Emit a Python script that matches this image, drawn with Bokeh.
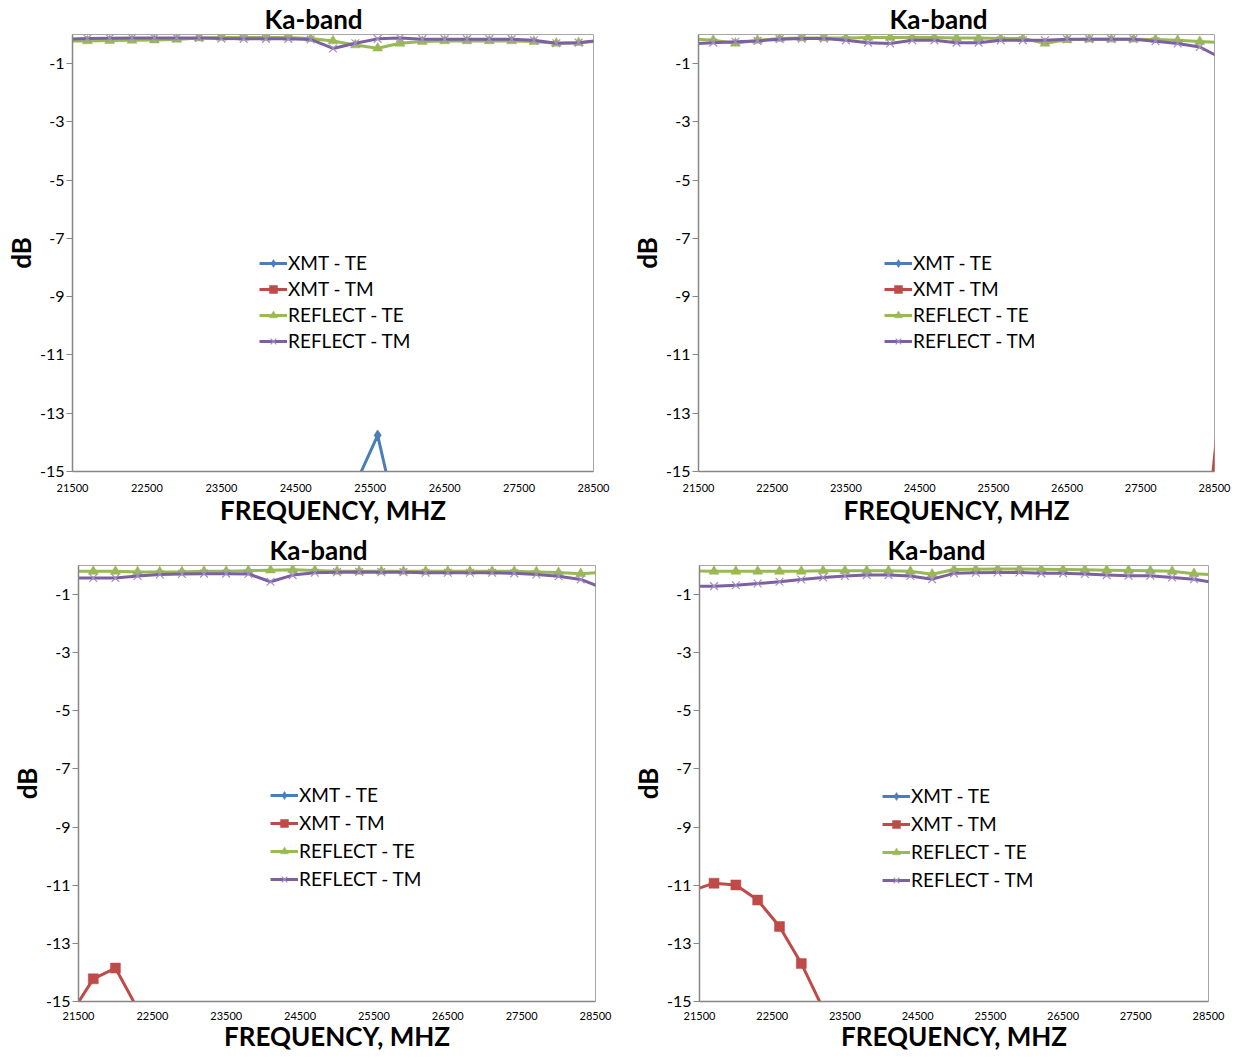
from bokeh.plotting import figure
from bokeh.layouts import column, row
from bokeh.models import FixedTicker, Legend, LegendItem
from bokeh.embed import file_html
from bokeh.resources import INLINE

# Frequency points (MHz), 300 MHz steps; the outermost points fall just outside the axis range
freq = [21400, 21700, 22000, 22300, 22600, 22900, 23200, 23500, 23800, 24100,
        24400, 24700, 25000, 25300, 25600, 25900, 26200, 26500, 26800, 27100,
        27400, 27700, 28000, 28300, 28600]

x_ticks = [21500, 22500, 23500, 24500, 25500, 26500, 27500, 28500]
y_ticks = [-1, -3, -5, -7, -9, -11, -13, -15]
series_names = ["XMT - TE", "XMT - TM", "REFLECT - TE", "REFLECT - TM"]

# Panel 1 (top left)
xmt_te_1 = [-24.5, -23.8, -23.1, -22.6, -22.9, -23.4, -22.1, -21.3, -20.6, -19.8, -18.7, -17.9, -16.8,
            -15.45, -13.76, -17.1, -18.4, -19.6, -20.3, -21.2, -22.0, -22.7, -23.5, -24.1, -24.8]
xmt_tm_1 = [-27.3, -26.8, -26.1, -25.7, -25.2, -24.8, -24.6, -24.1, -23.7, -23.4, -23.0, -22.6, -22.3,
            -22.0, -21.6, -21.9, -22.4, -22.8, -23.3, -23.7, -24.2, -24.6, -25.1, -25.5, -26.0]
refl_te_1 = [-0.22, -0.22, -0.21, -0.2, -0.19, -0.17, -0.12, -0.1, -0.1, -0.1, -0.1, -0.14, -0.22,
             -0.36, -0.47, -0.3, -0.24, -0.22, -0.22, -0.22, -0.22, -0.24, -0.3, -0.28, -0.22]
refl_tm_1 = [-0.16, -0.14, -0.13, -0.12, -0.12, -0.12, -0.12, -0.14, -0.15, -0.15, -0.15, -0.17, -0.48,
             -0.3, -0.15, -0.12, -0.16, -0.16, -0.16, -0.16, -0.16, -0.2, -0.3, -0.28, -0.2]

# Panel 2 (top right)
xmt_te_2 = [-26.2, -25.7, -25.1, -24.6, -24.2, -23.9, -23.5, -23.2, -22.8, -22.5, -22.1, -21.8, -21.6,
            -21.3, -21.1, -20.8, -20.6, -20.3, -20.1, -19.8, -19.6, -19.3, -19.1, -18.8, -18.6]
xmt_tm_2 = [-34.0, -33.2, -32.5, -31.8, -31.0, -30.3, -29.6, -28.9, -28.2, -27.5, -26.8, -26.1, -25.4,
            -24.7, -24.0, -23.4, -22.8, -22.3, -21.8, -21.3, -20.9, -20.5, -20.0, -19.5, -12.0]
refl_te_2 = [-0.15, -0.2, -0.3, -0.2, -0.14, -0.12, -0.12, -0.12, -0.1, -0.1, -0.1, -0.1, -0.12,
             -0.12, -0.14, -0.14, -0.3, -0.18, -0.16, -0.16, -0.16, -0.17, -0.2, -0.24, -0.28]
refl_tm_2 = [-0.32, -0.28, -0.25, -0.22, -0.16, -0.14, -0.14, -0.2, -0.28, -0.31, -0.2, -0.2, -0.28,
             -0.28, -0.2, -0.2, -0.2, -0.16, -0.16, -0.16, -0.16, -0.23, -0.31, -0.43, -0.82]

# Panel 3 (bottom left)
xmt_te_3 = [-29.5, -29.0, -28.6, -28.1, -27.7, -27.4, -27.0, -26.7, -26.3, -26.0, -25.8, -25.5, -25.3,
            -25.0, -24.8, -24.6, -24.4, -24.2, -24.0, -23.8, -23.6, -23.4, -23.2, -23.0, -22.8]
xmt_tm_3 = [-15.42, -14.22, -13.85, -15.25, -16.6, -17.9, -18.8, -19.5, -20.3, -21.0, -21.6, -22.3,
            -22.9, -23.4, -23.9, -24.3, -24.8, -25.2, -25.6, -26.0, -26.3, -26.7, -27.0, -27.4, -27.7]
refl_te_3 = [-0.2, -0.2, -0.2, -0.22, -0.22, -0.22, -0.2, -0.2, -0.18, -0.16, -0.15, -0.17, -0.2,
             -0.2, -0.2, -0.2, -0.2, -0.2, -0.2, -0.2, -0.2, -0.22, -0.24, -0.28, -0.24]
refl_tm_3 = [-0.43, -0.43, -0.43, -0.36, -0.31, -0.29, -0.28, -0.28, -0.29, -0.56, -0.33, -0.25, -0.23,
             -0.22, -0.23, -0.23, -0.25, -0.25, -0.25, -0.25, -0.27, -0.31, -0.37, -0.48, -0.78]

# Panel 4 (bottom right)
xmt_te_4 = [-27.8, -27.4, -27.0, -26.6, -26.3, -25.9, -25.6, -25.3, -25.0, -24.7, -24.4, -24.2, -23.9,
            -23.7, -23.5, -23.3, -23.1, -22.9, -22.7, -22.5, -22.3, -22.1, -21.9, -21.7, -21.5]
xmt_tm_4 = [-11.18, -10.93, -10.99, -11.51, -12.42, -13.69, -15.25, -16.6, -18.0, -19.2, -20.3, -21.3,
            -22.2, -23.0, -23.7, -24.3, -24.9, -25.4, -25.9, -26.3, -26.7, -27.1, -27.4, -27.7, -28.0]
refl_te_4 = [-0.18, -0.2, -0.2, -0.2, -0.2, -0.2, -0.18, -0.18, -0.18, -0.18, -0.2, -0.3, -0.14,
             -0.13, -0.12, -0.12, -0.13, -0.14, -0.15, -0.16, -0.17, -0.18, -0.2, -0.28, -0.32]
refl_tm_4 = [-0.72, -0.71, -0.68, -0.62, -0.56, -0.48, -0.41, -0.36, -0.33, -0.33, -0.36, -0.47, -0.27,
             -0.25, -0.24, -0.24, -0.27, -0.27, -0.29, -0.33, -0.35, -0.35, -0.41, -0.47, -0.6]

FONT = "Lato"
COLORS = ["#4A7EBB", "#BE4B48", "#98B954", "#7D60A0"]
MARKER_COLORS = ["#4A7EBB", "#BE4B48", "#98B954", "#A38FC2"]
MARKERS = ["diamond", "square", "triangle", "x"]
MARKER_SIZES = [11, 10, 10, 11]


def make_panel(series, width, height, left, right, top, bottom,
               title_offset, legend_loc, legend_spacing, tick_standoff, label_standoff):
    p = figure(width=width, height=height,
               x_range=(21500, 28500), y_range=(-15, 0),
               output_backend="svg", toolbar_location=None,
               min_border_left=left, min_border_right=right,
               min_border_top=top, min_border_bottom=bottom,
               background_fill_color="white", border_fill_color="white")
    p.title.text = "Ka-band"
    p.title.align = "left"
    p.title.offset = title_offset
    p.title.standoff = 0
    p.title.text_font = FONT
    p.title.text_font_size = "26px"
    p.title.text_font_style = "bold"
    p.title.text_color = "black"

    p.grid.visible = False
    p.outline_line_color = "#A6A6A6"
    p.outline_line_width = 1

    p.xaxis.ticker = FixedTicker(ticks=x_ticks)
    p.xaxis.major_label_overrides = {t: str(t) for t in x_ticks}
    p.xaxis.major_tick_out = 0
    p.xaxis.major_tick_in = 0
    p.xaxis.minor_tick_line_color = None
    p.xaxis.axis_line_color = "#868686"
    p.xaxis.axis_line_width = 1.5
    p.xaxis.major_label_text_font = FONT
    p.xaxis.major_label_text_font_size = "11px"
    p.xaxis.major_label_text_color = "black"
    p.xaxis.major_label_standoff = tick_standoff
    p.xaxis.axis_label = "FREQUENCY, MHZ"
    p.xaxis.axis_label_text_font = FONT
    p.xaxis.axis_label_text_font_size = "26px"
    p.xaxis.axis_label_text_font_style = "bold"
    p.xaxis.axis_label_text_color = "black"
    p.xaxis.axis_label_standoff = label_standoff

    p.yaxis.ticker = FixedTicker(ticks=y_ticks)
    p.yaxis.major_label_overrides = {t: str(t) for t in y_ticks}
    p.yaxis.major_tick_out = 6
    p.yaxis.major_tick_in = 0
    p.yaxis.major_tick_line_color = "#868686"
    p.yaxis.minor_tick_line_color = None
    p.yaxis.axis_line_color = "#868686"
    p.yaxis.axis_line_width = 1.5
    p.yaxis.major_label_text_font = FONT
    p.yaxis.major_label_text_font_size = "16px"
    p.yaxis.major_label_text_color = "black"
    p.yaxis.major_label_standoff = 2
    p.yaxis.axis_label = "dB"
    p.yaxis.axis_label_text_font = FONT
    p.yaxis.axis_label_text_font_size = "26px"
    p.yaxis.axis_label_text_font_style = "bold"
    p.yaxis.axis_label_text_color = "black"
    p.yaxis.axis_label_standoff = 0

    items = []
    for i, ys in enumerate(series):
        ln = p.line(freq, ys, line_color=COLORS[i], line_width=3)
        mk = p.scatter(freq, ys, marker=MARKERS[i], size=MARKER_SIZES[i],
                       fill_color=MARKER_COLORS[i], line_color=MARKER_COLORS[i],
                       line_width=1.2 if MARKERS[i] == "x" else 0.5)
        items.append(LegendItem(label=series_names[i], renderers=[ln, mk]))

    legend = Legend(items=items, location=legend_loc,
                    label_text_font=FONT, label_text_font_size="19px",
                    label_text_color="black",
                    glyph_width=28, glyph_height=20, label_height=20,
                    label_standoff=1, spacing=legend_spacing,
                    padding=0, margin=0,
                    border_line_alpha=0, background_fill_alpha=0)
    p.add_layout(legend)
    return p


p1 = make_panel([xmt_te_1, xmt_tm_1, refl_te_1, refl_tm_1],
                626, 530, 72, 33, 33, 59, 192, (187, 119), 3, 12, -1)
p2 = make_panel([xmt_te_2, xmt_tm_2, refl_te_2, refl_tm_2],
                612, 530, 72, 24, 33, 59, 191, (186, 119), 3, 12, -1)
p3 = make_panel([xmt_te_3, xmt_tm_3, refl_te_3, refl_tm_3],
                620, 527, 78, 25, 32, 56, 191, (192, 111), 5, 10, -3)
p4 = make_panel([xmt_te_4, xmt_tm_4, refl_te_4, refl_tm_4],
                618, 527, 79, 30, 35, 56, 188, (183, 110), 5, 10, -3)

layout = column(row(p1, p2), row(p3, p4))

with open("out.html", "w") as f:
    f.write(file_html(layout, INLINE))
